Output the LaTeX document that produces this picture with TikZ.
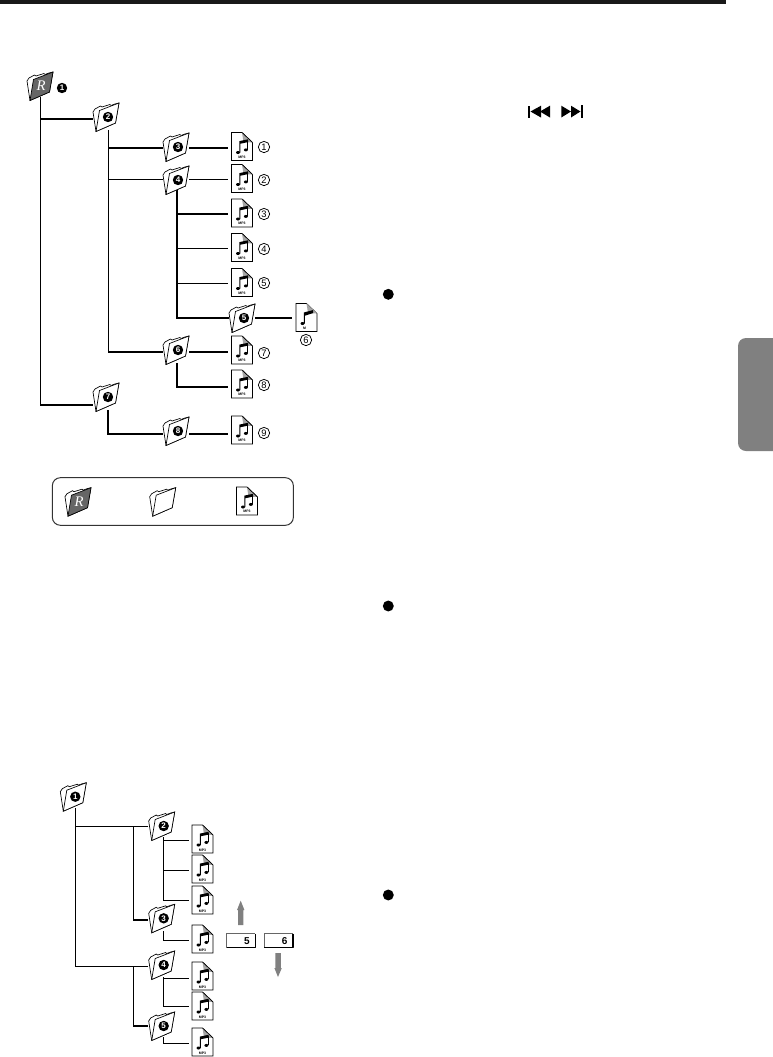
\documentclass[tikz,border=0pt]{standalone}
\usepackage{fontspec}
\setmainfont{Liberation Sans}
\newfontfamily\serifit{Liberation Serif}
\pgfdeclarelayer{bg}\pgfsetlayers{bg,main}
\definecolor{tabgray}{HTML}{808080}
\definecolor{rootgray}{HTML}{666666}
\tikzset{
  anchorbox/.style={rectangle,minimum width=19.5pt,minimum height=16.5pt,inner sep=0pt},
  fileanchor/.style={rectangle,minimum width=20.25pt,minimum height=16.5pt,inner sep=0pt},
  thinln/.style={line width=.75pt,black},
  midln/.style={line width=1.1pt,black},
  thickln/.style={line width=1.3pt,black},
  icon/.style={line width=.5pt,black,line join=miter},
  bullet/.style={circle,fill=black,text=white,inner sep=0pt,minimum size=7.8pt,font=\fontsize{6}{6}\selectfont\bfseries},
  circled/.style={circle,draw=black,line width=.55pt,inner sep=0pt,minimum size=8.5pt,font=\fontsize{7}{7}\selectfont},
  btn/.style={rectangle,minimum width=21pt,minimum height=10pt,inner sep=0pt,font=\fontsize{7.5}{8}\selectfont\bfseries},
  bigarrow/.style={fill=tabgray,draw=none},
  solidmark/.style={circle,fill=black,inner sep=0pt,minimum size=8.2pt},
}
% folder drawing, #1 x, #2 y, #3 front fill
\newcommand\folderart[3]{%
  \begin{scope}[shift={(#1,#2)}]
    \draw[icon,fill=white] (-13,-5) -- (-11,-8) -- (-5.5,-11) -- (-4,-10) -- (4,-12.5) -- (5,-11.5) -- (9,-13) -- (13,-14) -- (9.5,6) -- (-10,14.5) -- cycle;
    \draw[icon,fill=#3] (-6.5,-6.5) -- (13,-14) -- (9.5,6) -- (-10,14.5) -- cycle;
  \end{scope}}
% #1 name, #2 x, #3 icon y, #4 line y, #5 digit
\newcommand\folder[5]{%
  \folderart{#2}{#3}{white}%
  \node[anchorbox] (#1) at (#2,#4) {};
  \node[bullet] (#1n) at ({#2+2},#3) {#5};}
\newcommand\rootfolder[3]{%
  \folderart{#2}{#3}{rootgray}%
  \node[anchorbox] (#1) at (#2,#3) {};
  \node[text=white,font=\fontsize{11}{11}\selectfont\serifit\itshape] (#1r) at ({#2+1},{#3-.5}) {R};}
\newcommand\fileart[3]{%
  \begin{scope}[shift={(#1,#2)}]
    \draw[icon,fill=white] (-10.5,-14) -- (0,-14) -- (10.5,-4) -- (10.5,14) -- (-10.5,14) -- cycle;
    \fill[gray!70] (0,-14) -- (10.5,-4) -- (1.5,-4.5) -- cycle;
    \draw[icon] (0,-14) -- (10.5,-4);
    \fill (-2.7,-5.4) -- (6.1,-7.2) -- (6.1,-4.4) -- (-1.6,-2.8) -- (-1.6,6) -- (-2.7,6) -- cycle;
    \fill (5,-5.8) rectangle (6.1,3.4);
    \fill (-4,6) ellipse [x radius=2,y radius=1.5];
    \fill (3.9,3.4) ellipse [x radius=2,y radius=1.5];
    \node[inner sep=0pt,font=\fontsize{2.6}{3}\selectfont\bfseries] (#3) at (0,10.8) {MP3};
  \end{scope}}
% #1 name, #2 x, #3 icon y, #4 line y
\newcommand\mfile[4]{%
  \fileart{#2}{#3}{#1t}%
  \node[fileanchor] (#1) at (#2,#4) {};}
\begin{document}
\begin{tikzpicture}[x=.75pt,y=-.75pt]
\useasboundingbox (0,0) rectangle (773,1057);
% page furniture
\fill[black!90] (0,0) rectangle (726,4);
\fill[tabgray,rounded corners=6pt] (790,338) -- (738,338) -- (738,451) -- (790,451) -- cycle;
\begin{scope}
  \fill (528.3,105.5) rectangle (530,118);
  \fill (530.5,111.5) -- (541,105.7) -- (541,117.5) -- cycle;
  \fill (540,111.5) -- (550,105.7) -- (550,117.5) -- cycle;
  \fill (581,105) rectangle (582.7,117.5);
  \fill (580.5,111.5) -- (571,105.7) -- (571,117.5) -- cycle;
  \fill (571,111.5) -- (561.3,105.7) -- (561.3,117.5) -- cycle;
\end{scope}
\node[solidmark] (dotA) at (388.3,294.3) {};
\node[solidmark] (dotB) at (388.3,606) {};
\node[solidmark] (dotC) at (388.3,895) {};
% upper tree
\rootfolder{r}{40}{86}
\node[bullet] (rn) at (62,88) {1};
\folder{a2}{106}{117}{119}{2}
\folder{a3}{176}{147}{148}{3}
\folder{a4}{176}{180}{179}{4}
\folder{a5}{242}{318}{318}{5}
\folder{a6}{176}{350}{352}{6}
\folder{a7}{106}{397}{405}{7}
\folder{a8}{176}{431}{434}{8}
\mfile{m1}{242}{146.5}{148}
\mfile{m2}{242}{178.5}{179}
\mfile{m3}{242}{213}{214}
\mfile{m4}{242}{247.5}{248}
\mfile{m5}{242}{282.5}{283}
\mfile{m7}{242}{350}{352}
\mfile{m8}{242}{384}{387}
\mfile{m9}{242}{430}{434}
% single-note file
\begin{scope}[shift={(306.5,317.5)}]
  \draw[icon,fill=white] (-10.5,-14) -- (0,-14) -- (10.5,-4) -- (10.5,14) -- (-10.5,14) -- cycle;
  \fill[gray!70] (0,-14) -- (10.5,-4) -- (1.5,-4.5) -- cycle;
  \fill (-2.7,-5) -- (6.5,-7.4) -- (6.5,-4.4) -- (-1.6,-1.8) -- (-1.6,6) -- (-2.7,6) -- cycle;
  \fill (-4,6) ellipse [x radius=2,y radius=1.5];
  \node[inner sep=0pt,font=\fontsize{2.6}{3}\selectfont\bfseries] (mxt) at (-2,10.8) {M};
\end{scope}
\node[fileanchor,minimum width=21pt] (mx) at (306.5,318) {};
\node[circled] (c1) at (264,147) {1};
\node[circled] (c2) at (264,180) {2};
\node[circled] (c3) at (264,214) {3};
\node[circled] (c4) at (264,249) {4};
\node[circled] (c5) at (264,283) {5};
\node[circled] (c6) at (306,340) {6};
\node[circled] (c7) at (264,353) {7};
\node[circled] (c8) at (264,385) {8};
\node[circled] (c9) at (264,433) {9};
\begin{pgfonlayer}{bg}
  \draw[thinln] (r.south) |- (a7.west);
  \draw[midln] (r.south |- a7.west) -- (a7.west);
  \draw[thickln] (r.south |- a2.west) -- (a2.west);
  \draw[thinln] ([xshift=1.5pt]a2.south) |- (a6.west);
  \draw[thickln] ([xshift=1.5pt]a2.south |- a3.west) -- (a3.west);
  \draw[thinln] ([xshift=1.5pt]a2.south |- a4.west) -- (a4.west);
  \draw[midln] ([xshift=1.5pt]a2.south |- a6.west) -- (a6.west);
  \draw[thickln] (a3.east) -- (m1.west);
  \draw[thinln] (a4.east) -- (m2.west);
  \draw[midln] ([xshift=.75pt]a4.south) |- (a5.west);
  \draw[thickln] ([xshift=.75pt]a4.south |- m3.west) -- (m3.west);
  \draw[thinln] ([xshift=.75pt]a4.south |- m4.west) -- (m4.west);
  \draw[thinln] ([xshift=.75pt]a4.south |- m5.west) -- (m5.west);
  \draw[thickln] (a5.east) -- (mx.west);
  \draw[thickln] (a6.east) -- (m7.west);
  \draw[midln] ([xshift=.75pt]a6.south) |- (m8.west);
  \draw[midln] ([xshift=1.5pt,yshift=4.5pt]a7.south) |- (a8.west);
  \draw[thickln] (a8.east) -- (m9.west);
\end{pgfonlayer}
% legend
\node[draw=black!80,line width=.75pt,rounded corners=6pt,minimum width=180.75pt,minimum height=35.7pt,inner sep=0pt] (legend) at (172.85,501.5) {};
\rootfolder{lr}{78}{501.7}
\folderart{162.7}{501.7}{white}
\node[anchorbox] (lf) at (162.7,501.7) {};
\fileart{247}{501}{lmt}
\node[fileanchor] (lm) at (247,501) {};
% lower tree
\folder{b1}{73.3}{796.7}{797}{1}
\folder{b2}{161.7}{826}{826}{2}
\folder{b3}{161.7}{918.3}{920}{3}
\folder{b4}{161.7}{965}{966}{4}
\folder{b5}{161.7}{1026}{1026}{5}
\mfile{n1}{202.5}{839}{840.7}
\mfile{n2}{202.5}{869}{870}
\mfile{n3}{202.5}{900}{900}
\mfile{n4}{202.5}{939}{940}
\mfile{n5}{202.5}{976}{978}
\mfile{n6}{202.5}{1006}{1006}
\mfile{n7}{202.5}{1042}{1043}
\coordinate (j1) at (133.7,826);
\coordinate (j2) at (133.7,966);
\begin{pgfonlayer}{bg}
  \draw[thinln] ([xshift=1.8pt]b1.south) |- (b4.west);
  \draw[thinln] ([xshift=1.8pt]b1.south |- b2.west) -- (b2.west);
  \draw[thinln] (j1) |- (b3.west);
  \draw[thickln] (j1 |- b3.west) -- (b3.west);
  \draw[thinln] (j2) |- (b5.west);
  \draw[thickln] (j2 |- b5.west) -- (b5.west);
  \draw[thinln] ([xshift=1.5pt]b2.south) |- (n3.west);
  \draw[thinln] ([xshift=1.5pt]b2.south |- n1.west) -- (n1.west);
  \draw[thinln] ([xshift=1.5pt]b2.south |- n2.west) -- (n2.west);
  \draw[thinln] ([xshift=1.5pt]b3.south) |- (n4.west);
  \draw[thinln] ([xshift=1.5pt]b4.south) |- (n6.west);
  \draw[thinln] ([xshift=1.5pt]b4.south |- n5.west) -- (n5.west);
  \draw[thinln] ([xshift=1.5pt]b5.south) |- (n7.west);
\end{pgfonlayer}
% buttons and arrows
\node[btn,minimum width=21pt] (k5) at (241,940.7) {\hspace*{9pt}5};
\node[btn,minimum width=21pt] (k6) at (278.7,940.7) {\hspace*{9pt}6};
\foreach \n in {k5,k6}{
  \draw[black!60,line width=.7pt,line join=round] (\n.south west) -- (\n.north west) -- (\n.north east);
  \draw[black,line width=.9pt,line join=round] (\n.north east) -- (\n.south east) -- (\n.south west);
}
\fill[bigarrow] (238,925) -- (238,910) -- (237,910) -- (240.7,900.7) -- (244.4,910) -- (243.4,910) -- (243.4,925) -- cycle;
\fill[bigarrow] (275.4,953) -- (275.4,968) -- (274.4,968) -- (278,977) -- (281.8,968) -- (280.8,968) -- (280.8,953) -- cycle;
\end{tikzpicture}
\end{document}
